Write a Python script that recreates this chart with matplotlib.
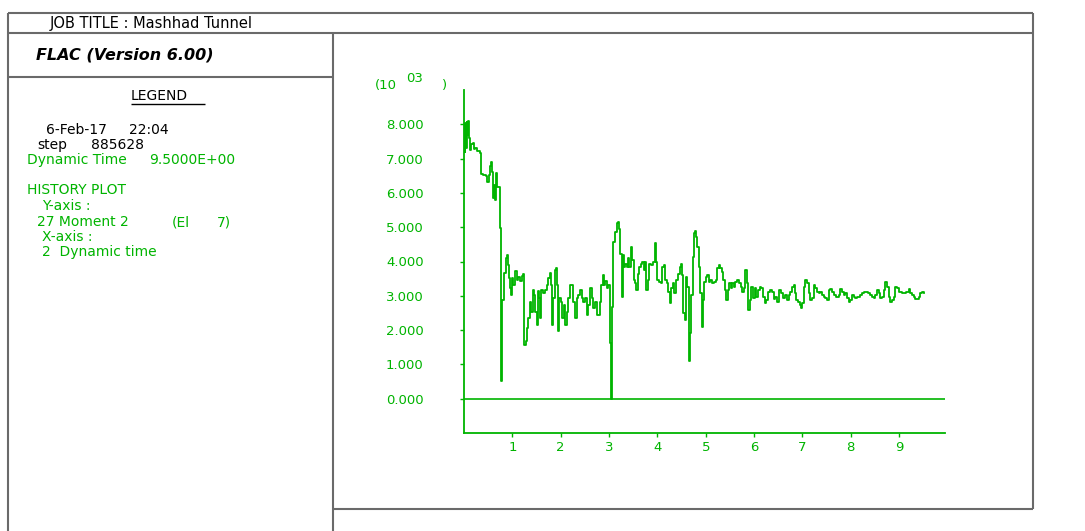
import matplotlib
matplotlib.use("Agg")
import matplotlib.pyplot as plt
from matplotlib.ticker import FormatStrFormatter

# History 27: bending moment 2 in element 7 (units of 10^3) versus dynamic time (s)
time_early = [
    0.000, 0.014, 0.028, 0.041, 0.055, 0.069, 0.083, 0.097, 0.124, 0.152,
    0.179, 0.200, 0.228, 0.262, 0.297, 0.331, 0.352, 0.400, 0.455, 0.483,
    0.510, 0.538, 0.559, 0.580, 0.594, 0.614, 0.635, 0.656, 0.676, 0.690,
    0.725, 0.738, 0.759, 0.766, 0.787, 0.794, 0.821, 0.835, 0.863, 0.883,
    0.904, 0.932, 0.945, 0.966, 0.987, 1.021, 1.056, 1.090, 1.125, 1.159,
    1.194, 1.228, 1.249, 1.277, 1.297, 1.332, 1.366, 1.394, 1.422, 1.449,
    1.477, 1.504, 1.525, 1.553, 1.573, 1.601, 1.643, 1.677, 1.712, 1.746,
    1.774, 1.801, 1.822, 1.850, 1.877, 1.905, 1.925, 1.946, 1.967, 2.000,
    2.036, 2.064, 2.098, 2.126, 2.160, 2.195, 2.236, 2.264, 2.298, 2.333,
    2.367, 2.402, 2.436, 2.471, 2.505, 2.540, 2.574, 2.609, 2.643, 2.678,
    2.712, 2.747, 2.781, 2.816, 2.843, 2.871, 2.899, 2.926, 2.954, 2.981,
]
moment_early = [
    7.60, 7.20, 8.03, 7.30, 8.08, 7.69, 8.10, 7.59, 7.25, 7.42,
    7.45, 7.28, 7.30, 7.23, 7.23, 7.16, 6.54, 6.52, 6.50, 6.33,
    6.52, 6.77, 6.89, 6.62, 5.84, 6.23, 5.80, 6.57, 6.33, 6.18,
    6.18, 4.97, 4.97, 0.52, 0.52, 2.88, 2.93, 3.66, 4.10, 4.19,
    3.90, 3.51, 3.22, 3.03, 3.51, 3.32, 3.71, 3.47, 3.56, 3.42,
    3.59, 3.63, 1.57, 1.67, 2.06, 2.35, 2.83, 2.54, 3.17, 3.03,
    2.54, 2.16, 3.13, 2.93, 2.35, 3.17, 3.08, 3.17, 3.31, 3.51,
    3.66, 3.31, 2.16, 2.93, 3.76, 3.81, 3.31, 1.96, 2.93, 2.83,
    2.35, 2.74, 2.16, 2.54, 2.93, 3.31, 3.31, 2.83, 2.35, 2.93,
    3.03, 3.17, 2.93, 2.83, 2.93, 2.45, 2.74, 3.22, 2.93, 2.64,
    2.83, 2.45, 2.45, 2.83, 3.32, 3.61, 3.32, 3.42, 3.22, 3.32,
]

time_mid = [
    3.023, 3.050, 3.064, 3.071, 3.092, 3.126, 3.161, 3.181, 3.209, 3.237,
    3.264, 3.285, 3.313, 3.340, 3.368, 3.395, 3.423, 3.458, 3.485, 3.513,
    3.540, 3.568, 3.596, 3.623, 3.658, 3.692, 3.720, 3.747, 3.775, 3.802,
    3.837, 3.872, 3.906, 3.948, 3.968, 3.996, 4.030, 4.065, 4.099, 4.127,
    4.154, 4.189, 4.223, 4.258, 4.285, 4.320, 4.354, 4.389, 4.423, 4.458,
    4.485, 4.506, 4.534, 4.568, 4.596, 4.623, 4.658, 4.679, 4.700, 4.727,
    4.755, 4.775, 4.803, 4.830, 4.858, 4.886, 4.913, 4.934, 4.961, 4.996,
    5.030, 5.065, 5.099, 5.134, 5.168, 5.203, 5.230, 5.265, 5.299, 5.334,
    5.368, 5.396, 5.423, 5.451, 5.478, 5.513, 5.547, 5.582, 5.616, 5.651,
    5.685, 5.720, 5.754, 5.789, 5.823, 5.851, 5.879, 5.906, 5.941, 5.975,
    6.010, 6.044, 6.079, 6.113, 6.148, 6.182, 6.217, 6.251, 6.286, 6.320,
]
moment_mid = [
    1.62, 0.00, 0.00, 2.68, 4.57, 4.86, 5.11, 5.16, 4.96, 4.23,
    2.97, 4.19, 3.85, 3.94, 3.85, 4.09, 3.85, 4.43, 4.04, 3.46,
    3.36, 3.17, 3.65, 3.85, 3.94, 3.99, 3.75, 3.99, 3.17, 3.46,
    3.94, 3.90, 3.99, 4.53, 3.99, 3.46, 3.41, 3.36, 3.85, 3.90,
    3.46, 3.36, 3.12, 2.78, 3.22, 3.36, 3.07, 3.46, 3.65, 3.85,
    3.94, 3.60, 2.49, 2.30, 3.56, 3.27, 1.09, 1.91, 3.02, 4.14,
    4.82, 4.89, 4.72, 4.43, 3.85, 3.07, 2.10, 2.88, 3.41, 3.56,
    3.60, 3.41, 3.46, 3.36, 3.41, 3.46, 3.80, 3.90, 3.80, 3.70,
    3.46, 3.17, 2.88, 3.17, 3.36, 3.22, 3.36, 3.25, 3.41, 3.46,
    3.36, 3.27, 3.12, 3.22, 3.75, 3.36, 2.59, 2.88, 3.27, 2.93,
    3.22, 2.97, 3.17, 3.27, 3.22, 2.97, 2.78, 2.88, 3.12, 3.17,
]

time_late = [
    6.370, 6.405, 6.439, 6.474, 6.508, 6.556, 6.598, 6.640, 6.681, 6.715,
    6.750, 6.784, 6.819, 6.847, 6.874, 6.909, 6.943, 6.971, 6.998, 7.026,
    7.060, 7.095, 7.129, 7.164, 7.198, 7.233, 7.267, 7.302, 7.336, 7.371,
    7.405, 7.440, 7.474, 7.509, 7.543, 7.578, 7.612, 7.647, 7.702, 7.750,
    7.785, 7.819, 7.854, 7.888, 7.923, 7.957, 7.992, 8.026, 8.061, 8.095,
    8.130, 8.185, 8.233, 8.282, 8.323, 8.351, 8.392, 8.440, 8.475, 8.509,
    8.544, 8.578, 8.613, 8.647, 8.682, 8.716, 8.751, 8.785, 8.820, 8.854,
    8.889, 8.923, 8.958, 8.992, 9.027, 9.061, 9.096, 9.151, 9.200, 9.234,
    9.269, 9.303, 9.338, 9.372, 9.407, 9.441, 9.476, 9.510,
]
moment_late = [
    3.12, 2.90, 2.97, 2.83, 3.17, 3.07, 2.93, 3.02, 2.88, 3.02,
    3.12, 3.27, 3.31, 3.07, 2.88, 2.83, 2.73, 2.64, 2.78, 3.27,
    3.46, 3.36, 3.07, 2.88, 2.93, 3.31, 3.22, 3.12, 3.07, 3.12,
    3.02, 2.97, 2.93, 2.88, 3.17, 3.19, 3.12, 3.02, 2.97, 3.02,
    3.19, 3.12, 3.02, 3.07, 2.93, 2.83, 2.88, 3.02, 2.97, 2.93,
    2.97, 3.02, 3.07, 3.12, 3.12, 3.07, 3.02, 2.97, 2.93, 3.02,
    3.17, 3.07, 2.93, 2.97, 3.17, 3.41, 3.27, 2.97, 2.83, 2.88,
    2.97, 3.27, 3.22, 3.12, 3.12, 3.07, 3.07, 3.12, 3.19, 3.07,
    3.02, 2.97, 2.90, 2.90, 2.97, 3.09, 3.12, 3.09,
]

x_ticks = [1, 2, 3, 4, 5, 6, 7, 8, 9]
y_ticks = [0, 1, 2, 3, 4, 5, 6, 7, 8]

time = time_early + time_mid + time_late
moment = moment_early + moment_mid + moment_late

GREEN = "#00b400"
FRAME = "#6a6a6a"
W, H = 1085, 531

fig = plt.figure(figsize=(W / 100, H / 100), dpi=100)
fig.patch.set_facecolor("white")

# page layer in pixel units (origin top-left) for the frame and legend block
page = fig.add_axes([0, 0, 1, 1])
page.set_xlim(0, W)
page.set_ylim(H, 0)
page.axis("off")


def rule(x0, y0, x1, y1, color=FRAME, lw=1.5):
    page.plot([x0, x1], [y0, y1], color=color, lw=lw, solid_capstyle="butt")


rule(8, 13, 1033, 13)
rule(8, 33, 1033, 33)
rule(8, 13, 8, 531)
rule(333, 33, 333, 531)
rule(8, 77, 333, 77)
rule(1033, 13, 1033, 509)
rule(333, 509, 1033, 509)


def label(x, y, s, color="black", size=10, **kw):
    page.text(x, y, s, color=color, fontsize=size, ha="left", va="center", **kw)


label(50, 23.5, "JOB TITLE : Mashhad Tunnel", size=10.5)
label(36, 54.5, "FLAC (Version 6.00)", size=11.5, fontweight="bold", fontstyle="italic")

label(131, 96.5, "LEGEND")
rule(131, 104, 205, 104, color="black", lw=1.0)

label(46, 130, "6-Feb-17")
label(129, 130, "22:04")
label(37, 145, "step")
label(91, 145, "885628")
label(27, 160, "Dynamic Time", color=GREEN)
label(149, 160, "9.5000E+00", color=GREEN)
label(27, 190, "HISTORY PLOT", color=GREEN)
label(42, 206, "Y-axis :", color=GREEN)
label(37, 222, "27 Moment 2", color=GREEN)
label(172, 222, "(El", color=GREEN)
label(217, 222, "7)", color=GREEN)
label(42, 237, "X-axis :", color=GREEN)
label(42, 252, "2  Dynamic time", color=GREEN)

# axis multiplier
label(375, 86, "(10", color=GREEN, size=9.5)
label(406, 78, "03", color=GREEN, size=9.5)
label(442, 86, ")", color=GREEN, size=9.5)

# history plot
ax = fig.add_axes([464 / W, (H - 433) / H, (945 - 464) / W, (433 - 90) / H])
ax.patch.set_alpha(0)
ax.plot(time, moment, color=GREEN, lw=1.3, drawstyle="steps-post")
ax.axhline(0, color=GREEN, lw=1.2)
ax.set_xlim(0, 9.95)
ax.set_ylim(-1, 9)
for side in ("top", "right"):
    ax.spines[side].set_visible(False)
for side in ("left", "bottom"):
    ax.spines[side].set_color(GREEN)
    ax.spines[side].set_linewidth(1.3)
ax.set_xticks(x_ticks)
ax.set_yticks(y_ticks)
ax.yaxis.set_major_formatter(FormatStrFormatter("%.3f"))
ax.tick_params(colors=GREEN, labelcolor=GREEN, labelsize=9.5, length=3, width=1.0)
ax.tick_params(axis="y", pad=26)
ax.tick_params(axis="x", pad=3)

fig.savefig("out.png", dpi=100, facecolor="white")
